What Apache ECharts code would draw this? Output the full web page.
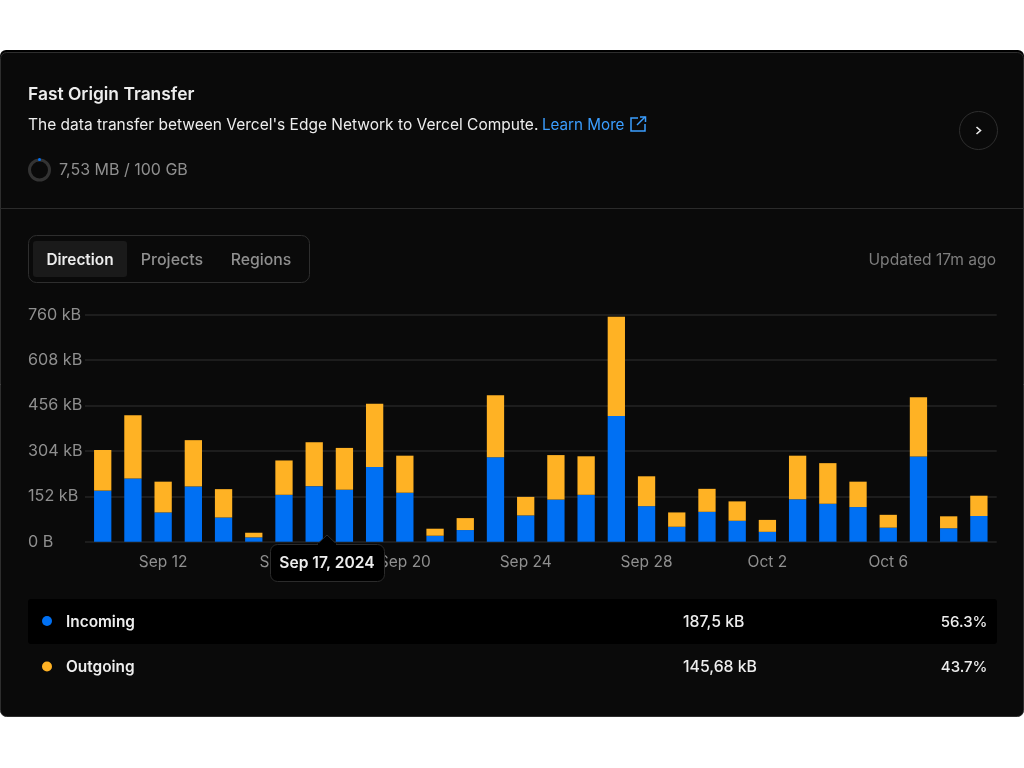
<!DOCTYPE html>
<html>
<head>
<meta charset="utf-8">
<style>html,body{margin:0;padding:0;background:#fff}#c{width:1024px;height:768px}</style>
<script src="https://cdn.jsdelivr.net/npm/echarts@6/dist/echarts.min.js"></script>
</head>
<body>
<div id="c"></div>
<script>
const categories = ['Sep 10','Sep 11','Sep 12','Sep 13','Sep 14','Sep 15','Sep 16','Sep 17','Sep 18','Sep 19','Sep 20','Sep 21','Sep 22','Sep 23','Sep 24','Sep 25','Sep 26','Sep 27','Sep 28','Sep 29','Sep 30','Oct 1','Oct 2','Oct 3','Oct 4','Oct 5','Oct 6','Oct 7','Oct 8','Oct 9'];
const incoming = [171,212,98,185,81,14.5,157,186,174,250,164,20,39,283,88,141,157,421,119,50,100,70,33,142,127,116,47,285,45,86];
const outgoing = [136,211,103,155,95,15.5,115,147,140,212,124,23.5,40,207,62,149,129,332,100,48,77,65,40,146,136,85,43,199,40,68];
const yTicks = [0,152,304,456,608,760];
const yTickLabels = ['0 B','152 kB','304 kB','456 kB','608 kB','760 kB'];
const legendRows = [['Incoming','187,5 kB','56.3%'],['Outgoing','145,68 kB','43.7%']];

const FONT = 'Inter, "Noto Sans", sans-serif';
const BLUE = '#0070f3', ORANGE = '#ffb224', GRID = '#252525', MUTED = '#8f8f8f';

function txt(x, y, text, size, weight, fill, align) {
  return {type:'text', z:5, silent:true, style:{x, y, text, fill, align:align||'left', verticalAlign:'middle', font:`${weight} ${size}px ${FONT}`}};
}
function line(pts, stroke, w, z) {
  return {type:'polyline', z:z||5, silent:true, shape:{points:pts}, style:{stroke, lineWidth:w, fill:null}};
}

const chrome = [
  {type:'rect', z:-11, silent:true, shape:{x:0,y:50,width:1024,height:12,r:[6,6,0,0]}, style:{fill:'#000000'}},
  {type:'rect', z:-10, silent:true, shape:{x:0.5,y:52.5,width:1023,height:664,r:6}, style:{fill:'#0a0a0a', stroke:'#2e2e2e', lineWidth:1}},
  txt(28,94.5,'Fast Origin Transfer',17.4,600,'#ededed'),
  txt(28,125,"The data transfer between Vercel's Edge Network to Vercel Compute.",15.5,400,'#ededed'),
  txt(542,125,'Learn More',15.2,400,'#3b9eff'),
  line([[638,118],[631,118],[631,131],[645,131],[645,124]],'#3b9eff',1.5),
  line([[637,125],[645,117]],'#3b9eff',1.5),
  line([[640,117],[645.5,117],[645.5,122]],'#3b9eff',1.5),
  {type:'circle', z:5, silent:true, shape:{cx:39.5,cy:170,r:10}, style:{fill:'none', stroke:'#333333', lineWidth:3}},
  {type:'circle', z:6, silent:true, shape:{cx:39.5,cy:159.5,r:1.5}, style:{fill:BLUE}},
  txt(59,170.5,'7,53 MB / 100 GB',16,400,MUTED),
  {type:'circle', z:5, silent:true, shape:{cx:978.5,cy:130.5,r:19}, style:{fill:'none', stroke:'#2e2e2e', lineWidth:1}},
  line([[976.5,127],[980.5,130.5],[976.5,134]],'#ededed',1.6),
  line([[0,208.5],[1024,208.5]],'#2b2b2b',1),
  {type:'rect', z:5, silent:true, shape:{x:28.5,y:235.5,width:281,height:47,r:8}, style:{fill:'none', stroke:'#2e2e2e', lineWidth:1}},
  {type:'rect', z:5, silent:true, shape:{x:33,y:241,width:94,height:36,r:3}, style:{fill:'#1a1a1a'}},
  txt(80,260,'Direction',15.4,600,'#ededed','center'),
  txt(172,260,'Projects',16,500,MUTED,'center'),
  txt(261,260,'Regions',15.8,500,MUTED,'center'),
  txt(996,260,'Updated 17m ago',15.6,400,'#7d7d7d','right'),
  {type:'rect', z:1, silent:true, shape:{x:28,y:599,width:969,height:45,r:3}, style:{fill:'#000000'}}
];
legendRows.forEach((r,i)=>{
  const y = 622 + i*45.5;
  chrome.push({type:'circle', z:5, silent:true, shape:{cx:47,cy:y-1,r:5}, style:{fill:i===0?BLUE:ORANGE}});
  chrome.push(txt(66,y,r[0],15.4,600,'#ededed'));
  chrome.push(txt(683,y,r[1],15.8,500,'#ededed'));
  chrome.push(txt(987.5,y,r[2],15,500,'#ededed','right'));
});
// tooltip
chrome.push({type:'polygon', z:20, silent:true, shape:{points:[[317,544.5],[327,535],[337,544.5]]}, style:{fill:'#000', stroke:'#2b2b2b', lineWidth:1}});
chrome.push({type:'rect', z:21, silent:true, shape:{x:270.5,y:544.5,width:114,height:37,r:7}, style:{fill:'#000', stroke:'#2b2b2b', lineWidth:1}});
chrome.push({type:'rect', z:22, silent:true, shape:{x:318,y:543,width:18,height:3}, style:{fill:'#000'}});
chrome.push({type:'text', z:23, silent:true, style:{x:327,y:563.5,text:'Sep 17, 2024',fill:'#ededed',align:'center',verticalAlign:'middle',font:`600 15.6px ${FONT}`}});

const chart = echarts.init(document.getElementById('c'), null, {width:1024, height:768});
chart.setOption({
  backgroundColor:'#ffffff',
  animation:false,
  textStyle:{fontFamily:FONT},
  grid:[
    {left:87.6, right:30, top:314.7, height:227},
    {left:85, right:27.3, top:314.7, height:227}
  ],
  xAxis:[
    {type:'category', gridIndex:0, data:categories, boundaryGap:true,
     axisLine:{show:false}, axisTick:{show:false},
     axisLabel:{color:MUTED, fontSize:15.5, margin:13, fontFamily:FONT,
       interval:(i)=>i%4===2}},
    {type:'value', gridIndex:1, min:0, max:1, show:false}
  ],
  yAxis:[
    {type:'value', gridIndex:0, min:0, max:760, interval:152, show:false},
    {type:'value', gridIndex:1, min:0, max:760, interval:152,
     axisLine:{show:false}, axisTick:{show:false},
     splitLine:{show:true, lineStyle:{color:GRID, width:1.5}},
     axisLabel:{color:MUTED, fontSize:16.2, align:'left', margin:57, fontFamily:FONT, padding:[2,0,0,0],
       formatter:(v)=>yTickLabels[yTicks.indexOf(v)]}}
  ],
  series:[
    {name:'Incoming', type:'bar', stack:'t', xAxisIndex:0, yAxisIndex:0, data:incoming, barWidth:17.3, itemStyle:{color:BLUE}, z:3},
    {name:'Outgoing', type:'bar', stack:'t', xAxisIndex:0, yAxisIndex:0, data:outgoing, barWidth:17.3, itemStyle:{color:ORANGE}, z:3}
  ],
  graphic:{elements:chrome}
});
</script>
</body>
</html>
